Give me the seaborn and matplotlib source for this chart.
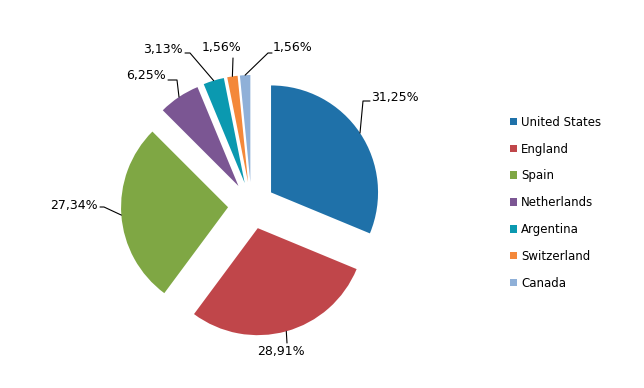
import numpy as np
import matplotlib
matplotlib.use("Agg")
import matplotlib.pyplot as plt
import seaborn as sns

countries = ["United States", "England", "Spain", "Netherlands",
             "Argentina", "Switzerland", "Canada"]
shares = [31.25, 28.91, 27.34, 6.25, 3.13, 1.56, 1.56]
labels = ["31,25%", "28,91%", "27,34%", "6,25%", "3,13%", "1,56%", "1,56%"]
colors = ["#1f71a9", "#c0464a", "#7fa744", "#7b5693",
          "#0b99b0", "#f4883a", "#8fb0d8"]

sns.set_theme(style="white")
plt.rcParams["font.family"] = ["DejaVu Sans"]

W, H = 644, 388
fig = plt.figure(figsize=(W / 100, H / 100), dpi=100)
ax = fig.add_axes([0, 0, 1, 1])

cx, cy, r = 251.5, H - 205.5, 107
# matplotlib's explode is an absolute offset in data units
explode = [23.5] * len(shares)
wedges, _ = ax.pie(shares, colors=colors, explode=explode, startangle=90,
                   counterclock=False, radius=r, center=(cx, cy),
                   wedgeprops=dict(linewidth=0))

# label layout: (text x, text y, ha, elbow point) in pixel coords (y from top)
layout = [
    (371, 97, "left", (363, 101)),
    (281, 352, "center", (287, 343)),
    (98, 205, "right", (104, 207)),
    (166, 76, "right", (177, 80)),
    (183, 50, "right", (190, 53)),
    (222, 48, "center", (233, 58)),
    (273, 48, "left", (268, 53)),
]

for w, lab, (tx, ty, ha, (ex, ey)) in zip(wedges, labels, layout):
    mid = np.deg2rad((w.theta1 + w.theta2) / 2)
    wx, wy = w.center
    ax_ = wx + w.r * np.cos(mid)
    ay_ = wy + w.r * np.sin(mid)
    if ha == "left":
        pts_x = [ax_, ex, tx - 1]
        pts_y = [ay_, H - ey, H - ey]
    elif ha == "right":
        pts_x = [ax_, ex, tx + 2]
        pts_y = [ay_, H - ey, H - ey]
    else:
        pts_x = [ax_, ex]
        pts_y = [ay_, H - ey]
    ax.plot(pts_x, pts_y, color="black", linewidth=0.8)
    ax.text(tx, H - ty, lab, ha=ha, va="center", fontsize=9, color="black")

ax.set_xlim(0, W)
ax.set_ylim(0, H)
ax.set_aspect("equal")
ax.axis("off")

leg = ax.legend(wedges, countries, loc="upper left",
                bbox_to_anchor=(505 / W, 1 - 111 / H), frameon=False,
                fontsize=8.5, handlelength=0.6, handleheight=0.6,
                handletextpad=0.35, labelspacing=1.17, borderaxespad=0,
                labelcolor="black")

fig.savefig("out.png", dpi=100)
